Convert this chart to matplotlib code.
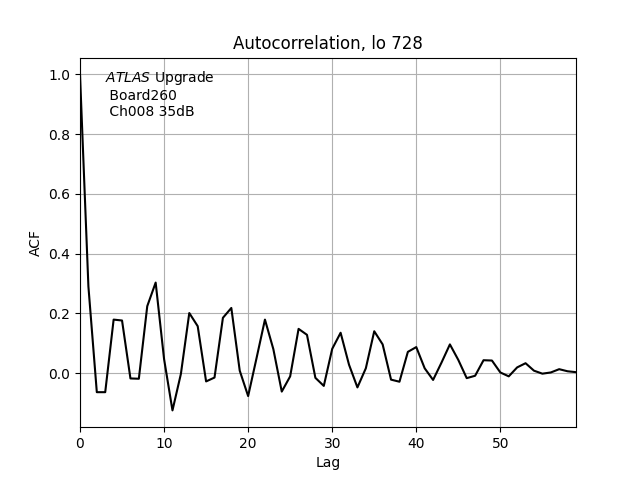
import matplotlib
matplotlib.use("Agg")
import matplotlib.pyplot as plt

lags = list(range(60))
acf = [1.0, 0.29, -0.064, -0.064, 0.179, 0.176, -0.018, -0.019, 0.224, 0.303,
       0.047, -0.125, -0.003, 0.201, 0.157, -0.028, -0.015, 0.185, 0.218, 0.008,
       -0.077, 0.05, 0.179, 0.08, -0.062, -0.011, 0.148, 0.128, -0.016, -0.043,
       0.081, 0.135, 0.028, -0.048, 0.016, 0.14, 0.096, -0.022, -0.029, 0.071,
       0.087, 0.016, -0.023, 0.035, 0.096, 0.044, -0.017, -0.009, 0.043, 0.042,
       0.002, -0.011, 0.019, 0.033, 0.008, -0.002, 0.002, 0.013, 0.006, 0.003]

fig, ax = plt.subplots(figsize=(6.4, 4.8), dpi=100)
ax.plot(lags, acf, color="black")
ax.set_xlim(0, 59)
ax.grid(True)
ax.set_title("Autocorrelation, lo 728")
ax.set_xlabel("Lag")
ax.set_ylabel("ACF")
ax.text(0.05, 0.97, "$\\it{ATLAS}$ Upgrade\n Board260\n Ch008 35dB",
        transform=ax.transAxes, va="top", ha="left")
fig.savefig("out.png")
